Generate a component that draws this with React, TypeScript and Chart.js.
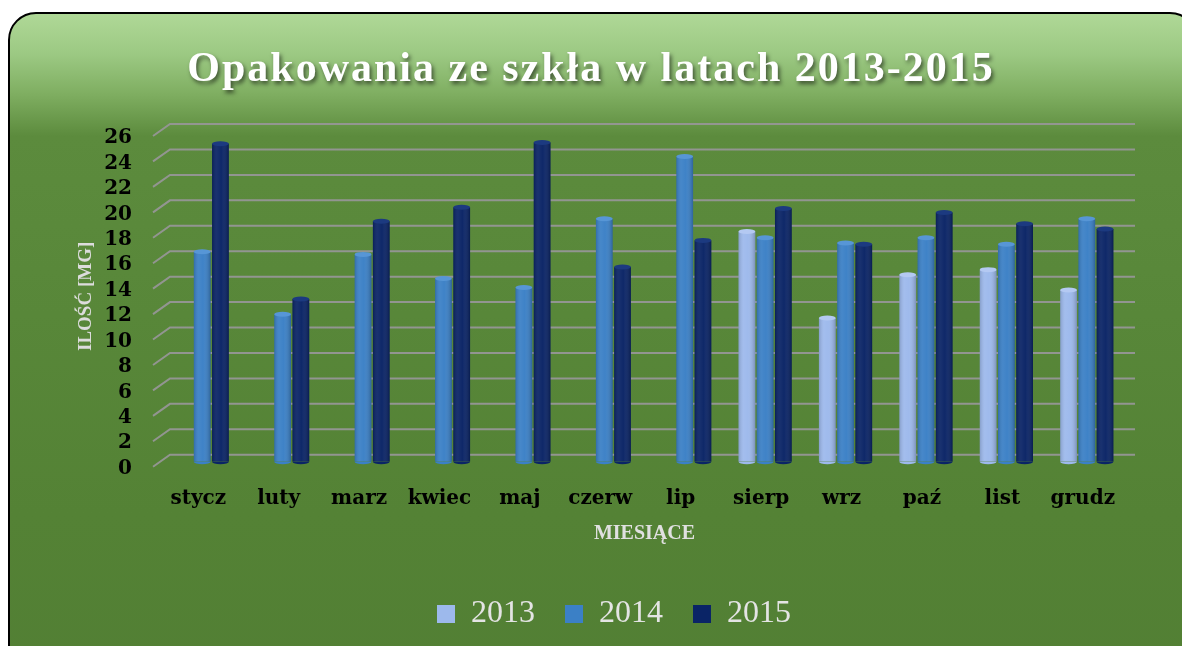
import React, { useEffect, useRef } from 'react';
import { Chart, registerables } from 'chart.js';

Chart.register(...registerables);

const chartTitle = 'Opakowania ze szkła w latach 2013-2015';
const yAxisTitle = 'ILOŚĆ [MG]';
const xAxisTitle = 'MIESIĄCE';
const months = ['stycz', 'luty', 'marz', 'kwiec', 'maj', 'czerw', 'lip', 'sierp', 'wrz', 'paź', 'list', 'grudz'];
const seriesNames = ['2013', '2014', '2015'];
const values2013 = [null, null, null, null, null, null, null, 18.1, 11.3, 14.7, 15.1, 13.5];
const values2014 = [16.5, 11.6, 16.3, 14.4, 13.7, 19.1, 24.0, 17.6, 17.2, 17.6, 17.1, 19.1];
const values2015 = [25.0, 12.8, 18.9, 20.0, 25.1, 15.3, 17.4, 19.9, 17.1, 19.6, 18.7, 18.3];
const yMin = 0;
const yMax = 26;
const yStep = 2;

const colors = ['#9db9ec', '#3b80c6', '#0a2466'];
const topColors = ['#b4c9f2', '#5796d6', '#1c3a80'];

const CANVAS_W = 1168;
const CANVAS_H = 632;

const titlePlugin = {
  id: 'shadowTitle',
  afterDraw(chart: any) {
    const ctx = chart.ctx;
    ctx.save();
    ctx.font = 'bold 42px "Liberation Serif", serif';
    try {
      (ctx as any).letterSpacing = '2px';
    } catch (e) {}
    ctx.textAlign = 'center';
    ctx.textBaseline = 'middle';
    ctx.shadowColor = 'rgba(0,0,0,0.55)';
    ctx.shadowOffsetX = 2;
    ctx.shadowOffsetY = 3;
    ctx.shadowBlur = 4;
    ctx.fillStyle = '#ffffff';
    ctx.fillText(chartTitle, 581, 56);
    ctx.restore();
  },
};

const gridPlugin = {
  id: 'grid3d',
  beforeDatasetsDraw(chart: any) {
    const ctx = chart.ctx;
    const ys = chart.scales.y;
    const area = chart.chartArea;
    ctx.save();
    ctx.strokeStyle = 'rgba(150,150,150,0.95)';
    ctx.lineWidth = 2;
    ys.ticks.forEach((t: any) => {
      const y = ys.getPixelForValue(t.value);
      ctx.beginPath();
      ctx.moveTo(area.left - 9, y + 5);
      ctx.lineTo(area.left + 8, y - 7);
      ctx.lineTo(area.right + 8, y - 7);
      ctx.stroke();
    });
    ctx.restore();
  },
};

const cylinderPlugin = {
  id: 'cylinder',
  afterDatasetsDraw(chart: any) {
    const ctx = chart.ctx;
    ctx.save();
    chart.data.datasets.forEach((ds: any, di: number) => {
      const meta = chart.getDatasetMeta(di);
      meta.data.forEach((bar: any, i: number) => {
        if (ds.data[i] == null) return;
        const { x, y, width, base } = bar.getProps(['x', 'y', 'width', 'base'], true);
        const left = x - width / 2;
        const g = ctx.createLinearGradient(left, 0, left + width, 0);
        g.addColorStop(0, 'rgba(0,0,0,0.15)');
        g.addColorStop(0.3, 'rgba(255,255,255,0.06)');
        g.addColorStop(0.55, 'rgba(255,255,255,0.02)');
        g.addColorStop(1, 'rgba(0,0,0,0.22)');
        ctx.fillStyle = g;
        ctx.fillRect(left, y, width, base - y);
        ctx.beginPath();
        ctx.ellipse(x, base, width / 2, 2.5, 0, 0, Math.PI);
        ctx.fillStyle = colors[di];
        ctx.fill();
        ctx.beginPath();
        ctx.ellipse(x, y, width / 2, 2.5, 0, 0, Math.PI * 2);
        ctx.fillStyle = topColors[di];
        ctx.fill();
      });
    });
    ctx.restore();
  },
};

export default function App() {
  const ref = useRef<HTMLCanvasElement | null>(null);

  useEffect(() => {
    document.documentElement.style.overflow = 'hidden';
    document.body.style.overflow = 'hidden';
    const canvas = ref.current;
    if (!canvas) return;
    const data = [values2013, values2014, values2015];
    const chart = new Chart(canvas, {
      type: 'bar',
      data: {
        labels: months,
        datasets: seriesNames.map((name, i) => ({
          label: name,
          data: data[i],
          backgroundColor: colors[i],
          borderWidth: 0,
          categoryPercentage: 0.68,
          barPercentage: 0.92,
        })),
      },
      options: {
        responsive: false,
        animation: false,
        devicePixelRatio: 1,
        layout: { padding: { left: 40, right: 0, top: 117, bottom: 6 } },
        plugins: {
          title: { display: false },
          tooltip: { enabled: false },
          legend: {
            position: 'bottom',
            labels: {
              boxWidth: 18,
              boxHeight: 18,
              padding: 30,
              color: '#e4e4e4',
              font: { family: '"Liberation Serif", serif', size: 32, weight: 'normal' },
            },
          },
        },
        scales: {
          x: {
            grid: { display: false, drawTicks: false },
            border: { display: false },
            ticks: {
              color: '#000',
              padding: 25,
              labelOffset: -4,
              maxRotation: 0,
              autoSkip: false,
              font: { family: '"DejaVu Serif", serif', size: 20, weight: 'bold' },
            },
            title: {
              display: true,
              text: xAxisTitle,
              color: '#e0e0e0',
              font: { family: '"Liberation Serif", serif', size: 20, weight: 'bold' },
              padding: { top: 0, bottom: 22 },
            },
            afterFit: (s: any) => {
              s.height = 106.3;
            },
          },
          y: {
            min: yMin,
            max: yMax,
            grid: { display: false, drawTicks: false },
            border: { display: false },
            ticks: {
              stepSize: yStep,
              autoSkip: false,
              color: '#000',
              padding: 30,
              labelOffset: 7,
              font: { family: '"DejaVu Serif", serif', size: 20, weight: 'bold' },
            },
            title: {
              display: true,
              text: yAxisTitle,
              color: '#dcdcdc',
              font: { family: '"Liberation Serif", serif', size: 19, weight: 'bold' },
              padding: { top: 25, bottom: 0 },
            },
            afterFit: (s: any) => {
              s.width = 112;
            },
          },
          yRight: {
            position: 'right',
            display: true,
            grid: { display: false, drawTicks: false },
            border: { display: false },
            ticks: { display: false },
            afterFit: (s: any) => {
              s.width = 51;
            },
          },
        },
      },
      plugins: [gridPlugin, cylinderPlugin, titlePlugin],
    } as any);
    return () => chart.destroy();
  }, []);

  return (
    <div
      style={{
        position: 'absolute',
        left: 8,
        top: 12,
        width: 1190,
        height: 680,
        boxSizing: 'border-box',
        border: '2px solid #000',
        borderRadius: 28,
        overflow: 'hidden',
        background:
          'linear-gradient(180deg, #afd897 0px, #9cc983 40px, #7fae61 80px, #5c8b3d 122px, #588739 300px, #548235 500px, #527f34 100%)',
      }}
    >
      <canvas ref={ref} width={CANVAS_W} height={CANVAS_H} style={{ display: 'block' }} />
    </div>
  );
}
